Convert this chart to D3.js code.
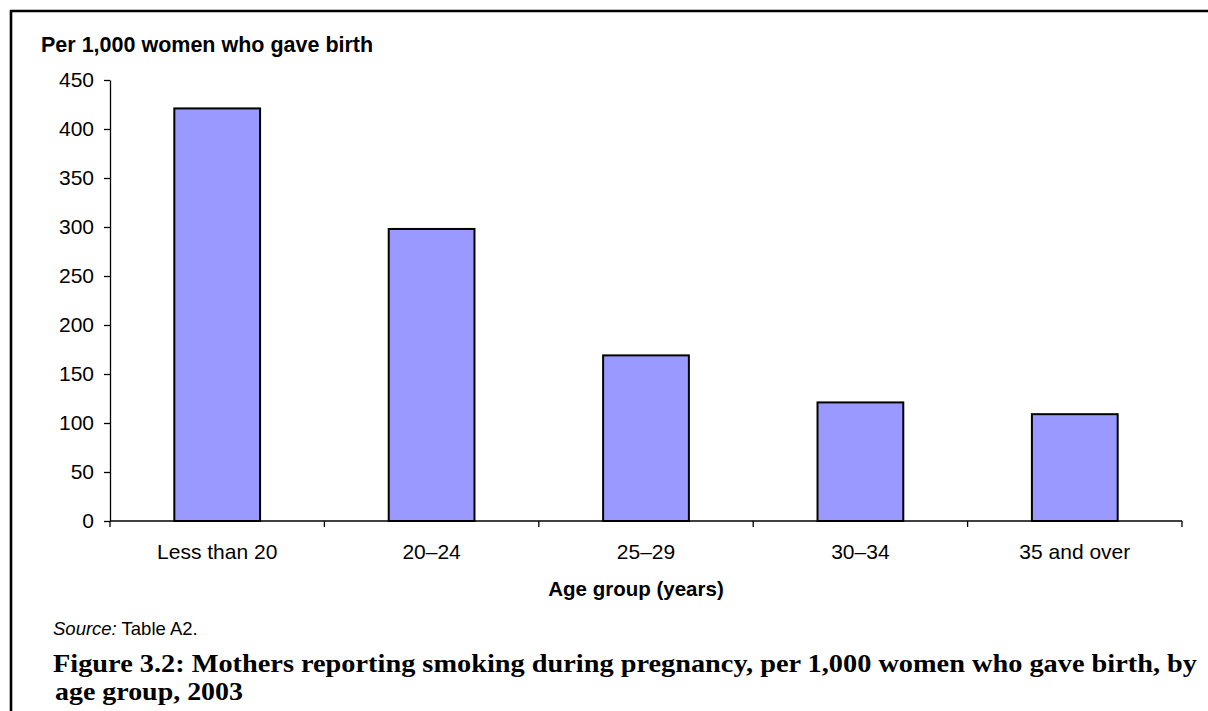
<!DOCTYPE html>
<meta charset="utf-8">
<style>
html, body { margin: 0; background: #fff; overflow: hidden; }
svg { display: block; }
.axis text { font-family: "Liberation Sans", Arial, sans-serif; font-size: 21px; fill: #000; }
.axis path, .axis line { stroke: #000; stroke-width: 1.3; }
.label { font-family: "Liberation Sans", Arial, sans-serif; }
.caption { font-family: "Liberation Serif", "Times New Roman", serif; font-weight: bold; }
</style>
<body>
<script src="https://cdn.jsdelivr.net/npm/d3@7"></script>
<script>

var width = 1208,
    height = 711;

// data
var ageGroups = ["Less than 20", "20\u201324", "25\u201329", "30\u201334", "35 and over"];
var smokingRate = [421, 298, 169, 121, 109];
var yTicks = [0, 50, 100, 150, 200, 250, 300, 350, 400, 450];

var svg = d3.select("body").append("svg")
    .attr("width", width)
    .attr("height", height);

// frame: only the left and top edges show on the page
svg.append("line")
    .attr("x1", 11).attr("x2", 11)
    .attr("y1", 10).attr("y2", height)
    .attr("stroke", "#000")
    .attr("stroke-width", 2.6);
svg.append("line")
    .attr("x1", 10).attr("x2", width)
    .attr("y1", 11).attr("y2", 11)
    .attr("stroke", "#000")
    .attr("stroke-width", 2.6);

var x = d3.scaleBand()
    .domain(ageGroups)
    .range([110, 1182])
    .paddingInner(0.6)
    .paddingOuter(0.3);

var y = d3.scaleLinear()
    .domain([0, 450])
    .range([521, 80]);

// y axis
svg.append("g")
    .attr("class", "axis")
    .attr("transform", "translate(110,0)")
    .call(d3.axisLeft(y).tickValues(yTicks).tickSize(6).tickSizeOuter(0).tickPadding(10));

// x axis line + boundary ticks
var xg = svg.append("g").attr("class", "axis");
xg.append("line")
    .attr("x1", 110).attr("x2", 1182)
    .attr("y1", y(0)).attr("y2", y(0));
xg.selectAll("line.bound")
    .data(d3.range(ageGroups.length + 1))
    .enter().append("line")
    .attr("class", "bound")
    .attr("x1", function(i){ return 110 + i * x.step(); })
    .attr("x2", function(i){ return 110 + i * x.step(); })
    .attr("y1", y(0)).attr("y2", y(0) + 6);
xg.selectAll("text")
    .data(ageGroups)
    .enter().append("text")
    .attr("x", function(d){ return x(d) + x.bandwidth() / 2; })
    .attr("y", 559)
    .attr("text-anchor", "middle")
    .text(function(d){ return d; });

// bars
svg.selectAll("rect.bar")
    .data(ageGroups)
    .enter().append("rect")
    .attr("class", "bar")
    .attr("x", function(d){ return x(d); })
    .attr("width", x.bandwidth())
    .attr("y", function(d, i){ return y(smokingRate[i]); })
    .attr("height", function(d, i){ return y(0) - y(smokingRate[i]); })
    .attr("fill", "#9999ff")
    .attr("stroke", "#000")
    .attr("stroke-width", 2);

// axis titles
svg.append("text")
    .attr("class", "label")
    .attr("x", 41).attr("y", 52)
    .attr("font-size", "21.5px")
    .attr("font-weight", "bold")
    .text("Per 1,000 women who gave birth");

svg.append("text")
    .attr("class", "label")
    .attr("x", 636).attr("y", 596)
    .attr("text-anchor", "middle")
    .attr("font-size", "20.5px")
    .attr("font-weight", "bold")
    .text("Age group (years)");

// source note
var src = svg.append("text")
    .attr("class", "label")
    .attr("x", 53).attr("y", 635)
    .attr("font-size", "18.5px");
src.append("tspan").attr("font-style", "italic").text("Source:");
src.append("tspan").text(" Table A2.");

// figure caption
svg.append("text")
    .attr("class", "caption")
    .attr("x", 53).attr("y", 672)
    .attr("font-size", "25px")
    .attr("textLength", 1144)
    .attr("lengthAdjust", "spacingAndGlyphs")
    .text("Figure 3.2: Mothers reporting smoking during pregnancy, per 1,000 women who gave birth, by");

svg.append("text")
    .attr("class", "caption")
    .attr("x", 55).attr("y", 700)
    .attr("font-size", "25px")
    .attr("textLength", 188)
    .attr("lengthAdjust", "spacingAndGlyphs")
    .text("age group, 2003");

</script>
